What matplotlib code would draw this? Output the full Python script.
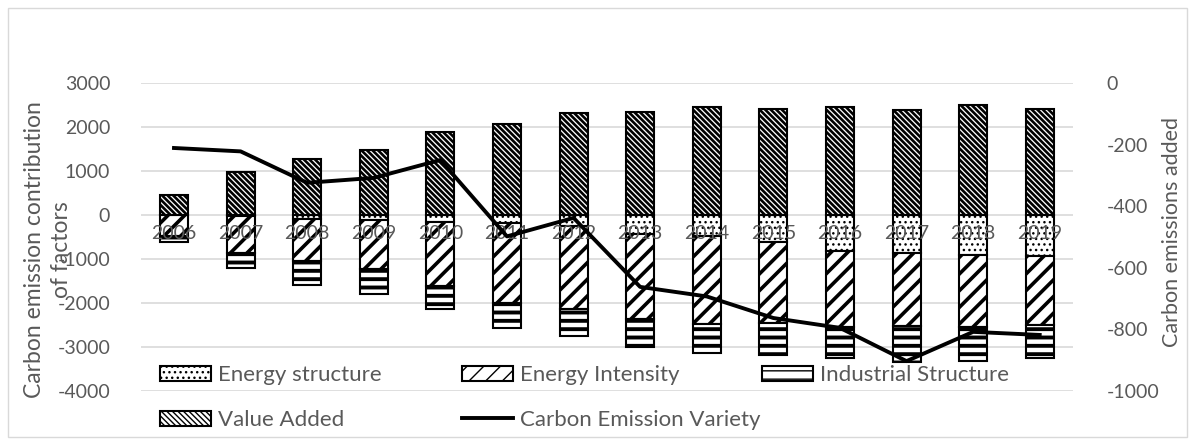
import matplotlib
matplotlib.use("Agg")
import matplotlib.pyplot as plt
from matplotlib.patches import Patch, Rectangle
from matplotlib.lines import Line2D
import numpy as np

years = [str(y) for y in range(2006, 2020)]
energy_structure = [-10, -20, -100, -110, -155, -180, -255, -427, -482, -618, -820, -860, -900, -935]
energy_intensity = [-465, -840, -950, -1110, -1460, -1815, -1870, -1933, -1991, -1830, -1720, -1660, -1640, -1565]
industrial_structure = [-150, -340, -545, -580, -515, -570, -615, -645, -659, -740, -720, -820, -780, -740]
value_added = [455, 985, 1265, 1477, 1880, 2060, 2320, 2340, 2450, 2420, 2450, 2390, 2500, 2410]
carbon_variety = [-211, -222, -324, -308, -250, -498, -438, -662, -693, -763, -795, -903, -808, -818]

plt.rcParams['font.family'] = ['Lato', 'DejaVu Sans']
plt.rcParams['axes.unicode_minus'] = False
gray = '#595959'
gridc = '#d9d9d9'

# hatch styles: (pattern, hatch linewidth)
H_ES = ('...', 1.0)
H_EI = ('//', 2.6)
H_IS = ('--', 2.8)
H_VA = ('\\' * 6, 1.9)

fig = plt.figure(figsize=(11.95, 4.45), dpi=100)
ax = fig.add_axes([140.7 / 1195, 1 - 391 / 445, (1073 - 140.7) / 1195, 308 / 445])
ax2 = ax.twinx()

x = np.arange(len(years))
w = 0.42


def hbar(y, bottom, style):
    hatch, hlw = style
    with plt.rc_context({'hatch.linewidth': hlw}):
        bars = ax.bar(x, y, w, bottom=bottom, color='white', edgecolor='black',
                      linewidth=1.5, hatch=hatch, zorder=1)
    for b in bars:
        if hasattr(b, 'set_hatch_linewidth'):
            b.set_hatch_linewidth(hlw)
    return bars


es = np.array(energy_structure)
ei = np.array(energy_intensity)
ind = np.array(industrial_structure)

hbar(es, 0, H_ES)
hbar(ei, es, H_EI)
hbar(ind, es + ei, H_IS)
hbar(value_added, 0, H_VA)

ax.set_ylim(-4000, 3000)
ax.set_xlim(-0.5, len(years) - 0.5)
for v in range(-4000, 3001, 1000):
    ax.axhline(v, color=gridc, lw=1.2, zorder=0.5)
ax.set_yticks(range(-4000, 3001, 1000))
ax.set_xticks(x)
ax.set_xticklabels(years)
ax.spines['bottom'].set_position(('data', 0))
for s in ax.spines.values():
    s.set_visible(False)
ax.tick_params(axis='y', length=0, pad=22, labelsize=14, labelcolor=gray)
ax.tick_params(axis='x', length=0, pad=7, labelsize=14, labelcolor=gray)

ax2.plot(x, carbon_variety, color='black', lw=2.8, zorder=3)
ax2.set_ylim(-1000, 0)
ax2.set_yticks(range(-1000, 1, 200))
for s in ax2.spines.values():
    s.set_visible(False)
ax2.tick_params(axis='y', length=0, pad=24, labelsize=14, labelcolor=gray)

fig.text(48 / 1195, 1 - 250 / 445, 'Carbon emission contribution\nof factors', rotation=90,
         ha='center', va='center', fontsize=16.5, color=gray, linespacing=1.4)
fig.text(1172 / 1195, 1 - 232 / 445, 'Carbon emissions added', rotation=90,
         ha='center', va='center', fontsize=15.5, color=gray)


def hpatch(style):
    hatch, hlw = style
    with plt.rc_context({'hatch.linewidth': hlw}):
        p = Patch(facecolor='white', edgecolor='black', hatch=hatch, linewidth=1.5)
    if hasattr(p, 'set_hatch_linewidth'):
        p.set_hatch_linewidth(hlw)
    return p


cols = [
    ([hpatch(H_ES), hpatch(H_VA)], ['Energy structure', 'Value Added'], 160),
    ([hpatch(H_EI), Line2D([], [], color='black', lw=2.8)], ['Energy Intensity', 'Carbon Emission Variety'], 462),
    ([hpatch(H_IS)], ['Industrial Structure'], 762),
]
for handles, labels, px in cols:
    leg = fig.legend(handles, labels, loc='upper left', bbox_to_anchor=(px / 1195, 1 - 365 / 445),
                     frameon=False, fontsize=16, handlelength=2.3, handleheight=0.65,
                     handletextpad=0.3, labelspacing=1.12, borderpad=0, borderaxespad=0)
    for t in leg.get_texts():
        t.set_color(gray)

fig.patches.append(Rectangle((8 / 1195, 8 / 445), 1179 / 1195, 429 / 445, transform=fig.transFigure,
                             fill=False, edgecolor=gridc, lw=1))

fig.savefig('out.png', dpi=100)
